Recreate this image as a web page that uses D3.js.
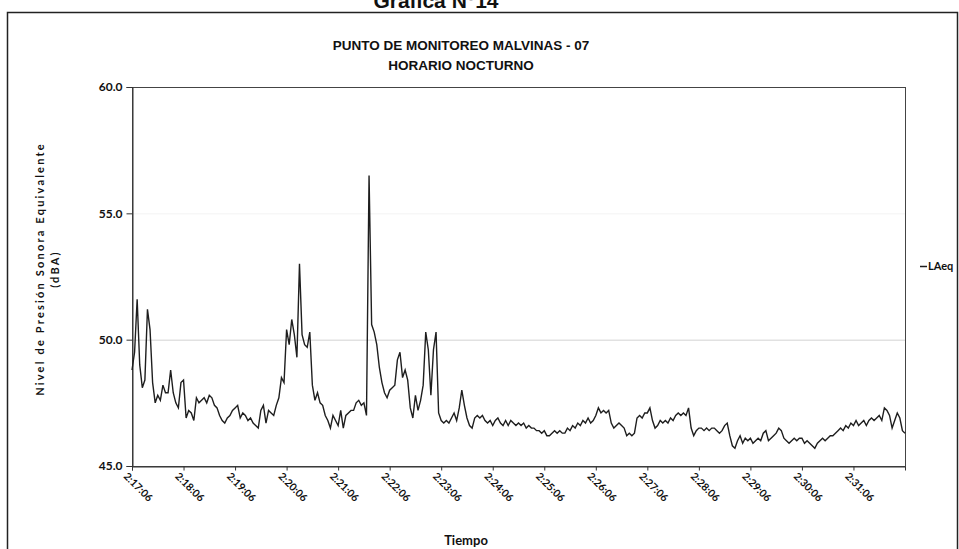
<!DOCTYPE html>
<html>
<head>
<meta charset="utf-8">
<script src="https://cdn.jsdelivr.net/npm/d3@7"></script>
<style>
  html, body { margin: 0; padding: 0; background: #fff; }
  svg { display: block; }
</style>
</head>
<body>
<svg id="chart" width="959" height="549"></svg>
<script>
// Sound level series (LAeq, dBA), one reading every 3 seconds from 2:17:06
const STEP_SECONDS = 3;
const laeq = [
  48.8, 49.5, 51.6, 49.0, 48.1, 48.4, 51.2, 50.4, 48.3, 47.5,
  47.8, 47.6, 48.2, 47.9, 47.9, 48.8, 47.9, 47.5, 47.3, 48.3,
  48.4, 46.9, 47.2, 47.1, 46.8, 47.7, 47.5, 47.6, 47.7, 47.5,
  47.8, 47.7, 47.4, 47.3, 47.0, 46.8, 46.7, 46.9, 47.0, 47.2,
  47.3, 47.4, 46.9, 47.1, 47.0, 46.8, 46.9, 46.7, 46.6, 46.5,
  47.2, 47.4, 46.7, 47.2, 47.1, 47.0, 47.4, 47.7, 48.5, 48.3,
  50.4, 49.8, 50.8, 50.2, 49.3, 53.0, 50.2, 49.8, 49.7, 50.3,
  48.2, 47.6, 47.9, 47.5, 47.4, 47.0, 46.8, 46.5, 47.0, 46.8,
  46.6, 47.2, 46.5, 47.0, 47.1, 47.2, 47.2, 47.5, 47.6, 47.4,
  47.5, 47.0, 56.5, 50.6, 50.3, 49.8, 48.9, 48.3, 47.9, 47.7,
  48.0, 48.1, 48.2, 49.2, 49.5, 48.5, 48.8, 48.4, 47.3, 46.9,
  47.8, 47.2, 47.6, 48.2, 50.3, 49.6, 47.8, 49.6, 50.3, 47.1,
  46.8, 46.7, 46.8, 46.7, 46.9, 47.1, 46.8, 47.3, 48.0, 47.4,
  46.9, 46.6, 46.5, 46.9, 47.0, 46.9, 47.0, 46.8, 46.7, 46.8,
  46.6, 46.8, 46.9, 46.7, 46.6, 46.8, 46.6, 46.8, 46.7, 46.6,
  46.7, 46.6, 46.7, 46.5, 46.6, 46.5, 46.5, 46.4, 46.4, 46.3,
  46.4, 46.2, 46.2, 46.3, 46.4, 46.3, 46.4, 46.3, 46.3, 46.5,
  46.4, 46.6, 46.5, 46.7, 46.6, 46.8, 46.7, 46.9, 46.7, 46.8,
  47.0, 47.3, 47.1, 47.2, 47.1, 47.2, 46.7, 46.5, 46.6, 46.7,
  46.6, 46.5, 46.2, 46.3, 46.2, 46.3, 46.9, 47.0, 46.9, 47.1,
  47.1, 47.3, 46.8, 46.5, 46.6, 46.8, 46.7, 46.8, 46.7, 46.9,
  46.8, 47.0, 47.1, 47.0, 47.1, 47.0, 47.3, 46.5, 46.2, 46.4,
  46.5, 46.5, 46.4, 46.5, 46.4, 46.5, 46.5, 46.4, 46.3, 46.4,
  46.6, 46.7, 46.2, 45.8, 45.7, 46.0, 46.2, 45.9, 46.1, 46.0,
  46.1, 45.9, 46.0, 46.1, 46.0, 46.3, 46.4, 46.0, 46.1, 46.2,
  46.3, 46.5, 46.4, 46.1, 46.0, 45.9, 46.0, 46.1, 46.0, 46.1,
  46.1, 45.9, 46.0, 45.9, 45.8, 45.7, 45.9, 46.0, 46.1, 46.0,
  46.1, 46.2, 46.2, 46.3, 46.4, 46.5, 46.4, 46.6, 46.5, 46.7,
  46.6, 46.8, 46.6, 46.7, 46.8, 46.6, 46.8, 46.9, 46.8, 46.9,
  47.0, 46.8, 47.3, 47.2, 47.0, 46.5, 46.8, 47.1, 46.9, 46.4,
  46.3
];

// Minute ticks (seconds after the first reading) and their labels
const timeTicks = [0, 60, 120, 180, 240, 300, 360, 420, 480, 540, 600, 660, 720, 780, 840];
const timeLabels = ["2:17:06", "2:18:06", "2:19:06", "2:20:06", "2:21:06", "2:22:06", "2:23:06",
  "2:24:06", "2:25:06", "2:26:06", "2:27:06", "2:28:06", "2:29:06", "2:30:06", "2:31:06"];
const levelTicks = [45, 50, 55, 60];

const svg = d3.select("#chart");
const plot = { left: 132, right: 905, top: 87, bottom: 466 };

const x = d3.scaleLinear()
  .domain([0, (laeq.length - 1) * STEP_SECONDS])
  .range([plot.left, plot.right]);
const y = d3.scaleLinear().domain([45, 60]).range([plot.bottom, plot.top]);

const labelFont = "Lato, 'Open Sans', sans-serif";
const titleFont = "'Liberation Sans', Arial, sans-serif";

// Outer frame of the figure
svg.append("path")
  .attr("d", "M7.5,549 V12.5 H957.5 V549")
  .attr("fill", "none").attr("stroke", "#222").attr("stroke-width", 1.5);

// Figure caption (partly above the frame)
svg.append("text")
  .attr("x", 436).attr("y", 8)
  .attr("text-anchor", "middle")
  .style("font", `bold 21px ${titleFont}`)
  .attr("fill", "#111")
  .text("Grafica N°14");

// Chart title
svg.append("text")
  .attr("x", 461).attr("y", 50)
  .attr("text-anchor", "middle")
  .style("font", `bold 13.5px ${titleFont}`)
  .attr("fill", "#111")
  .text("PUNTO DE MONITOREO MALVINAS - 07");
svg.append("text")
  .attr("x", 461).attr("y", 70)
  .attr("text-anchor", "middle")
  .style("font", `bold 13.5px ${titleFont}`)
  .attr("fill", "#111")
  .text("HORARIO NOCTURNO");

// Horizontal gridlines
svg.append("g")
  .selectAll("line")
  .data(levelTicks.filter(v => v > 45 && v < 60))
  .join("line")
  .attr("x1", plot.left).attr("x2", plot.right)
  .attr("y1", d => y(d) + 0.5).attr("y2", d => y(d) + 0.5)
  .attr("stroke", d => d === 50 ? "#d2d2d2" : "#f3f3f3")
  .attr("stroke-width", 1);

// Plot area border
svg.append("rect")
  .attr("x", plot.left + 0.5).attr("y", plot.top + 0.5)
  .attr("width", plot.right - plot.left).attr("height", plot.bottom - plot.top)
  .attr("fill", "none").attr("stroke", "#444").attr("stroke-width", 1);

// Y axis
const yAxis = svg.append("g")
  .attr("transform", `translate(${plot.left + 0.5},0)`)
  .call(d3.axisLeft(y).tickValues(levelTicks).tickFormat(d3.format(".1f")).tickSize(6).tickPadding(4));
yAxis.select(".domain").attr("stroke", "#333");
yAxis.selectAll(".tick line").attr("stroke", "#333");
yAxis.selectAll(".tick text")
  .style("font", `bold 12px ${labelFont}`)
  .attr("fill", "#111");

// X axis
const xAxis = svg.append("g")
  .attr("transform", `translate(0,${plot.bottom + 0.5})`)
  .call(d3.axisBottom(x).tickValues(timeTicks)
    .tickFormat((d, i) => timeLabels[i]).tickSize(4).tickPadding(3));
xAxis.select(".domain").attr("stroke", "#333");
xAxis.selectAll(".tick line").attr("stroke", "#333");
xAxis.selectAll(".tick text")
  .style("font", `bold 10.5px ${labelFont}`)
  .attr("fill", "#111")
  .attr("text-anchor", "start")
  .attr("dy", "0.2em")
  .attr("transform", "translate(-3,4) rotate(45)");

// Axis titles
const yTitle = svg.append("text")
  .attr("transform", "translate(44,269) rotate(-90)")
  .attr("text-anchor", "middle")
  .style("font", `bold 11px ${labelFont}`)
  .style("letter-spacing", "2.2px")
  .attr("fill", "#111");
yTitle.append("tspan").attr("x", 0).attr("dy", 0).text("Nivel de Presión Sonora Equivalente");
yTitle.append("tspan").attr("x", 0).attr("dy", 15).text("(dBA)");

svg.append("text")
  .attr("x", 466).attr("y", 545)
  .attr("text-anchor", "middle")
  .style("font", `bold 13px ${labelFont}`)
  .attr("fill", "#111")
  .text("Tiempo");

// LAeq series
const line = d3.line()
  .x((d, i) => x(i * STEP_SECONDS))
  .y(d => y(d));
svg.append("path")
  .datum(laeq)
  .attr("d", line)
  .attr("fill", "none")
  .attr("stroke", "#1e1e1e")
  .attr("stroke-width", 1.4)
  .attr("stroke-linejoin", "miter");

// Legend
svg.append("line")
  .attr("x1", 920).attr("x2", 927).attr("y1", 266.5).attr("y2", 266.5)
  .attr("stroke", "#1e1e1e").attr("stroke-width", 1.5);
svg.append("text")
  .attr("x", 928).attr("y", 270)
  .style("font", `bold 11px ${labelFont}`)
  .attr("fill", "#111")
  .text("LAeq");
</script>
</body>
</html>
